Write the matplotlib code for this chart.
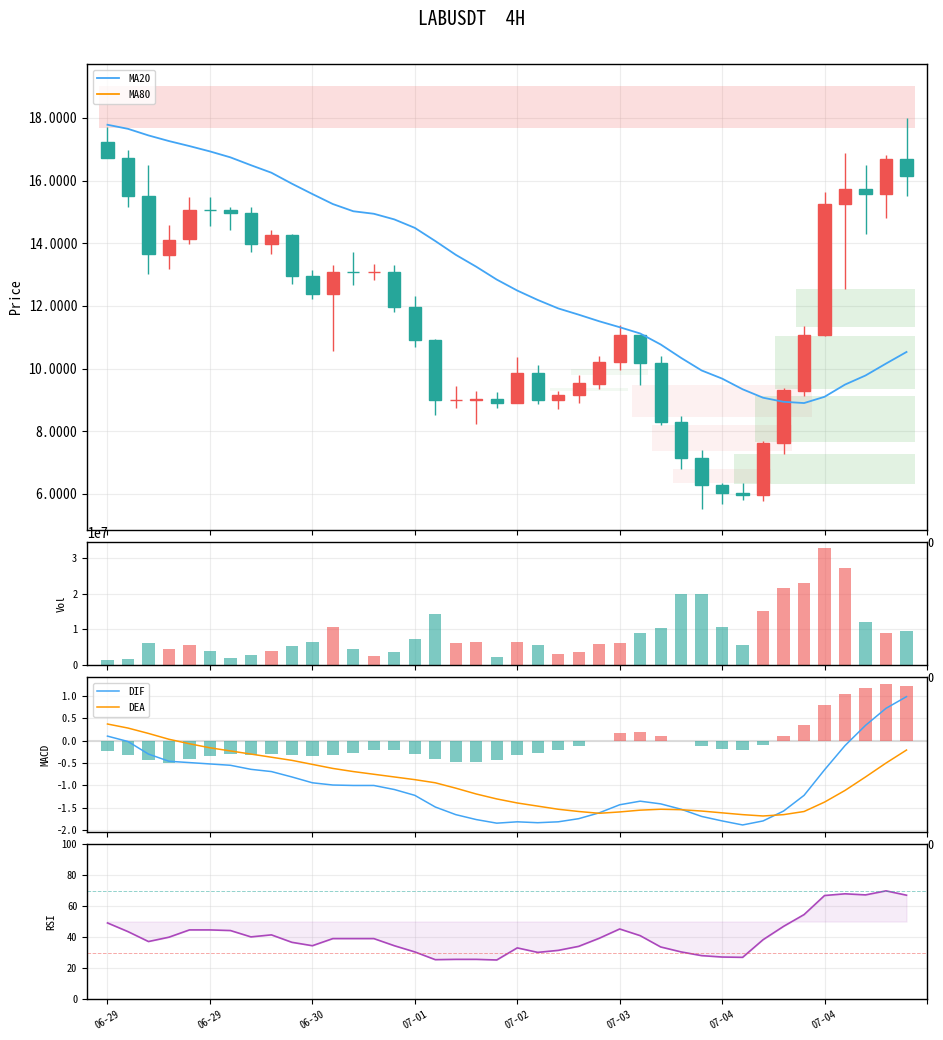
import matplotlib.pyplot as plt
import numpy as np
from matplotlib.ticker import FormatStrFormatter

plt.rcParams['font.family'] = ['Noto Sans Mono CJK SC', 'Noto Sans CJK SC', 'DejaVu Sans']
plt.rcParams['axes.unicode_minus'] = False

# ---------------- data ----------------
opens = [17.23, 16.72, 15.51, 13.63, 14.14, 15.07, 15.07, 14.97, 13.98, 14.25,
         12.96, 12.39, 13.09, 13.08, 13.09, 11.97, 10.92, 9.00, 9.00, 9.04,
         8.91, 9.87, 9.01, 9.17, 9.52, 10.22, 11.08, 10.19, 8.31, 7.16,
         6.30, 6.04, 5.98, 7.61, 9.28, 11.06, 15.26, 15.74, 15.58, 16.69]
highs = [17.70, 16.96, 16.51, 14.57, 15.46, 15.46, 15.17, 15.17, 14.41, 14.31,
         13.13, 13.32, 13.71, 13.35, 13.29, 12.33, 10.93, 9.43, 9.27, 9.24,
         10.37, 10.13, 9.27, 9.78, 10.39, 11.40, 11.08, 10.39, 8.48, 7.39,
         6.36, 6.34, 7.69, 9.38, 11.35, 15.62, 16.89, 16.51, 16.83, 18.01]
lows = [16.71, 15.15, 13.01, 13.17, 13.97, 14.55, 14.42, 13.72, 13.65, 12.70,
        12.22, 10.56, 12.66, 12.82, 11.80, 10.69, 8.52, 8.74, 8.23, 8.74,
        8.91, 8.87, 8.71, 8.90, 9.35, 9.95, 9.48, 8.20, 6.80, 5.52,
        5.68, 5.81, 5.78, 7.27, 9.12, 11.04, 12.53, 14.29, 14.79, 15.50]
closes = [16.71, 15.51, 13.66, 14.11, 15.07, 15.06, 14.97, 13.98, 14.25, 12.95,
          12.39, 13.09, 13.08, 13.09, 11.96, 10.91, 9.01, 9.01, 9.02, 8.91,
          9.87, 9.01, 9.17, 9.55, 10.22, 11.08, 10.19, 8.31, 7.16, 6.29,
          6.04, 5.98, 7.62, 9.31, 11.08, 15.26, 15.74, 15.58, 16.69, 16.14]
ma20 = [17.78, 17.65, 17.44, 17.26, 17.10, 16.93, 16.74, 16.49, 16.25, 15.90,
        15.57, 15.25, 15.02, 14.94, 14.76, 14.49, 14.07, 13.63, 13.25, 12.84,
        12.49, 12.19, 11.92, 11.72, 11.51, 11.32, 11.12, 10.77, 10.34, 9.94,
        9.68, 9.34, 9.07, 8.94, 8.90, 9.10, 9.49, 9.78, 10.16, 10.53]
vol_1e7 = [0.14, 0.17, 0.62, 0.45, 0.56, 0.39, 0.20, 0.28, 0.39, 0.53,
           0.64, 1.06, 0.45, 0.25, 0.36, 0.73, 1.43, 0.62, 0.64, 0.22,
           0.64, 0.56, 0.31, 0.36, 0.59, 0.62, 0.89, 1.03, 2.01, 2.01,
           1.06, 0.56, 1.51, 2.18, 2.32, 3.30, 2.74, 1.20, 0.89, 0.95]
dif = [0.10, -0.02, -0.30, -0.46, -0.49, -0.52, -0.55, -0.64, -0.69, -0.81,
       -0.94, -0.99, -1.00, -1.00, -1.09, -1.22, -1.48, -1.65, -1.76, -1.84,
       -1.81, -1.83, -1.81, -1.74, -1.61, -1.43, -1.35, -1.41, -1.53, -1.69,
       -1.79, -1.88, -1.79, -1.57, -1.22, -0.65, -0.11, 0.34, 0.72, 0.98]
dea = [0.37, 0.28, 0.16, 0.03, -0.07, -0.16, -0.23, -0.30, -0.37, -0.44,
       -0.53, -0.62, -0.69, -0.75, -0.81, -0.87, -0.94, -1.06, -1.19, -1.30,
       -1.39, -1.46, -1.53, -1.58, -1.62, -1.59, -1.55, -1.53, -1.54, -1.57,
       -1.61, -1.65, -1.68, -1.65, -1.58, -1.37, -1.11, -0.81, -0.50, -0.21]
macd_hist = [-0.24, -0.31, -0.44, -0.49, -0.42, -0.35, -0.29, -0.33, -0.29, -0.31,
             -0.35, -0.31, -0.27, -0.22, -0.22, -0.29, -0.42, -0.47, -0.47, -0.44,
             -0.31, -0.27, -0.20, -0.11, 0.00, 0.17, 0.19, 0.10, -0.01, -0.11,
             -0.18, -0.20, -0.09, 0.10, 0.35, 0.79, 1.04, 1.17, 1.26, 1.21]
rsi = [49.1, 43.5, 37.1, 39.9, 44.6, 44.6, 44.2, 40.1, 41.4, 36.6,
       34.4, 39.0, 39.0, 39.0, 34.4, 30.4, 25.4, 25.6, 25.6, 25.2,
       33.0, 30.1, 31.4, 34.0, 39.2, 45.2, 40.9, 33.6, 30.4, 28.0,
       27.1, 26.9, 38.3, 46.9, 54.5, 66.8, 67.9, 67.2, 69.8, 67.0]

# supply / demand zones: first candle, last candle, low, high, kind
zone_start = [0, 26, 27, 28, 34, 33, 32, 31, 23, 22]
zone_end = [39, 34, 33, 32, 39, 39, 39, 39, 26, 25]
zone_low = [17.68, 8.46, 7.37, 6.35, 11.33, 9.35, 7.66, 6.32, 9.80, 9.27]
zone_high = [19.02, 9.48, 8.20, 6.80, 12.54, 11.04, 9.13, 7.28, 9.99, 9.37]
zone_kind = ['supply', 'supply_weak', 'supply_weak', 'supply_weak',
             'demand', 'demand', 'demand', 'demand', 'demand_weak', 'demand_weak']

tick_pos = [0, 5, 10, 15, 20, 25, 30, 35, 40]
tick_lbl = ['06-29', '06-29', '06-30', '07-01', '07-02', '07-03', '07-04', '07-04', '']

# ---------------- styling ----------------
RED = '#ef5350'
TEAL = '#26a69a'
zone_style = {'supply': (RED, 0.19), 'supply_weak': (RED, 0.08),
              'demand': ('#4caf50', 0.16), 'demand_weak': ('#4caf50', 0.07)}

o, h, l, c = map(np.array, (opens, highs, lows, closes))
x = np.arange(len(o))
cols = np.where(c >= o, RED, TEAL)

fig = plt.figure(figsize=(9.43, 10.4), dpi=100)
L, W = 87 / 943, 840 / 943
ax1 = fig.add_axes([L, 0.4904, W, 0.4481])
ax2 = fig.add_axes([L, 0.3606, W, 0.1183], sharex=ax1)
ax3 = fig.add_axes([L, 0.2, W, 0.149], sharex=ax1)
ax4 = fig.add_axes([L, 0.0394, W, 0.149], sharex=ax1)

fig.suptitle('LABUSDT  4H', fontsize=14, y=0.981, va='center')

# price panel
for s, e, lo, hi, k in zip(zone_start, zone_end, zone_low, zone_high, zone_kind):
    col, a = zone_style[k]
    ax1.fill_between([s - 0.4, e + 0.4], lo, hi, color=col, alpha=a, lw=0, zorder=1)

ax1.vlines(x, l, h, colors=cols, lw=1, zorder=2)
ax1.bar(x, np.abs(c - o), bottom=np.minimum(o, c), width=0.6, color=cols,
        edgecolor=cols, lw=1, zorder=3)
ax1.plot(x, ma20, color='#42a5f5', lw=1.3, label='MA20', zorder=4)
ax1.plot([], [], color='#ff9800', lw=1.3, label='MA80')
ax1.set_ylim(4.85, 19.72)
ax1.yaxis.set_major_formatter(FormatStrFormatter('%.4f'))
ax1.set_ylabel('Price', fontsize=10)
ax1.tick_params(axis='y', labelsize=10)
ax1.legend(loc='upper left', fontsize=8)

# volume panel
ax2.bar(x, np.array(vol_1e7) * 1e7, width=0.6, color=cols, alpha=0.6)
ax2.set_ylabel('Vol', fontsize=8)

# macd panel
hist = np.array(macd_hist)
ax3.bar(x, hist, width=0.6, color=np.where(hist >= 0, RED, TEAL), alpha=0.6)
ax3.plot(x, dif, color='#42a5f5', lw=1.1, label='DIF')
ax3.plot(x, dea, color='#ff9800', lw=1.1, label='DEA')
ax3.axhline(0, color='#dddddd', lw=1.5, zorder=0)
ax3.set_ylabel('MACD', fontsize=8)
ax3.legend(loc='upper left', fontsize=8)

# rsi panel
ax4.plot(x, rsi, color='#ab47bc', lw=1.2)
ax4.fill_between(x, rsi, 50, color='#ab47bc', alpha=0.1)
ax4.axhline(70, ls='--', color=TEAL, alpha=0.5, lw=0.7)
ax4.axhline(30, ls='--', color=RED, alpha=0.5, lw=0.7)
ax4.set_ylim(0, 100)
ax4.set_ylabel('RSI', fontsize=8)

ax1.set_xlim(-1, 40)
ax4.set_xticks(tick_pos)
ax4.set_xticklabels(tick_lbl, rotation=30, fontsize=7.5)

for ax in (ax1, ax2, ax3, ax4):
    ax.grid(True, color='lightgray', alpha=0.4, lw=0.8)
    ax.set_axisbelow(True)
    for sp in ax.spines.values():
        sp.set_linewidth(1.0)
for ax in (ax1, ax2, ax3):
    ax.tick_params(axis='x', labelbottom=False)
for ax in (ax2, ax3, ax4):
    ax.tick_params(axis='y', labelsize=7.5)
    ax.text(1.0, 0.99, '0', transform=ax.transAxes, fontsize=9, ha='left', va='center')
ax2.yaxis.get_offset_text().set_fontsize(10)

fig.savefig('out.png', dpi=100)
